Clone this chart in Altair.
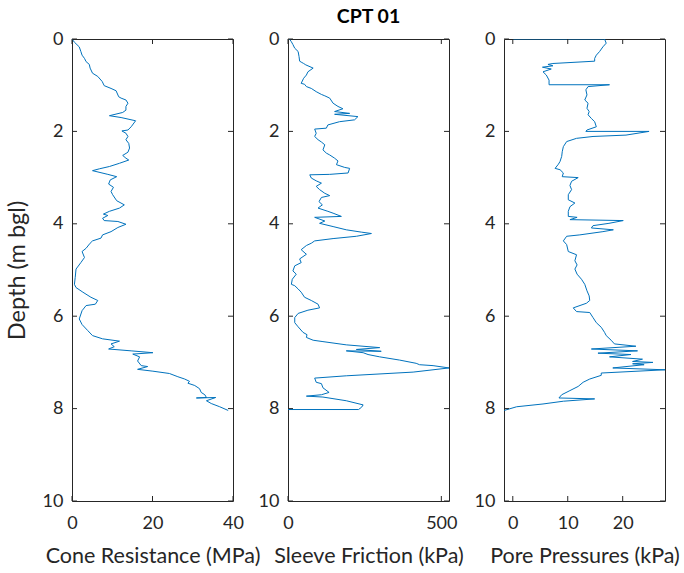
import altair as alt
import pandas as pd

FONT = "Lato"
TXT = "#262626"
LINE = "#0072BD"

# ---- data ----
cone_depth = [0, 0.07, 0.17, 0.27, 0.35, 0.42, 0.49, 0.55, 0.63, 0.74, 0.81, 0.92, 1.01, 1.07, 1.12, 1.25,
              1.28, 1.32, 1.39, 1.46, 1.54, 1.59, 1.66, 1.70, 1.77, 1.90, 1.97, 1.99, 2.04, 2.11, 2.18, 2.26,
              2.36, 2.45, 2.52, 2.58, 2.62, 2.69, 2.76, 2.81, 2.85, 2.93, 2.98, 3.05, 3.14, 3.21, 3.30, 3.37,
              3.50, 3.59, 3.66, 3.73, 3.79, 3.82, 3.88, 3.93, 3.95, 4.01, 4.08, 4.17, 4.24, 4.31, 4.37, 4.42,
              4.53, 4.60, 4.73, 4.84, 4.98, 5.16, 5.31, 5.38, 5.48, 5.59, 5.66, 5.74, 5.77, 5.88, 6.06, 6.18,
              6.31, 6.42, 6.49, 6.54, 6.60, 6.66, 6.71, 6.75, 6.79, 6.82, 6.88, 6.97, 7.07, 7.09, 7.15, 7.19,
              7.24, 7.31, 7.36, 7.41, 7.45, 7.50, 7.57, 7.65, 7.70, 7.76, 7.77, 7.76, 7.83, 7.89, 7.96, 8.04]
cone_value = [0, 0.6, 1.8, 2.2, 2.5, 3.1, 3.5, 4.3, 4.5, 5.1, 6.4, 7.5, 8.0, 9.7, 10.95, 11.6,
              12.2, 13.4, 13.9, 13.4, 13.4, 12.6, 9.3, 12.2, 15.8, 14.7, 13.9, 12.4, 13.4, 13.9, 13.4, 14.1,
              14.3, 13.9, 12.6, 13.4, 14.1, 11.8, 9.3, 6.8, 5.1, 8.9, 11.1, 9.5, 9.1, 10.3, 9.7, 10.1,
              11.1, 13.0, 11.8, 9.3, 7.8, 8.9, 7.6, 8.0, 11.4, 13.4, 11.4, 9.7, 7.6, 7.2, 5.1, 4.5,
              3.5, 2.5, 3.1, 2.2, 1.0, 0.8, 0.6, 1.0, 2.7, 4.7, 6.4, 5.8, 3.5, 2.5, 1.8, 2.5,
              3.9, 5.1, 7.6, 11.8, 9.7, 10.5, 9.1, 14.7, 20.1, 15.1, 16.8, 16.3, 17.2, 18.8, 16.3, 20.1,
              24.2, 26.3, 28.0, 29.2, 28.8, 30.5, 31.7, 32.1, 33.0, 33.4, 30.9, 35.7, 33.4, 34.6, 36.7, 38.8]

sleeve_depth = [0, 0.06, 0.12, 0.20, 0.27, 0.38, 0.48, 0.50, 0.53, 0.56, 0.63, 0.71, 0.78, 0.85, 0.96, 0.98,
                1.03, 1.07, 1.14, 1.20, 1.23, 1.28, 1.39, 1.46, 1.51, 1.57, 1.61, 1.63, 1.68, 1.75, 1.79, 1.86,
                1.93, 1.95, 2.04, 2.11, 2.18, 2.23, 2.29, 2.40, 2.47, 2.51, 2.58, 2.64, 2.72, 2.78, 2.80, 2.90,
                2.93, 2.94, 3.01, 3.07, 3.12, 3.19, 3.26, 3.34, 3.39, 3.43, 3.52, 3.59, 3.66, 3.73, 3.77, 3.84,
                3.86, 3.94, 3.99, 4.06, 4.13, 4.18, 4.21, 4.27, 4.32, 4.37, 4.42, 4.47, 4.56, 4.66, 4.76, 4.84,
                4.91, 5.02, 5.09, 5.20, 5.31, 5.34, 5.41, 5.48, 5.59, 5.66, 5.74, 5.82, 5.87, 5.94, 6.03, 6.14,
                6.23, 6.35, 6.40, 6.46, 6.52, 6.55, 6.62, 6.68, 6.72, 6.76, 6.75, 6.79, 6.83, 6.88, 6.95, 7.02,
                7.05, 7.07, 7.12, 7.21, 7.29, 7.34, 7.43, 7.46, 7.55, 7.65, 7.70, 7.73, 7.75, 7.83, 7.92, 7.97,
                8.02, 8.02]
sleeve_value = [5, 11, 16, 22, 33, 36, 38, 43, 51, 58, 82, 65, 60, 51, 43, 54,
                60, 76, 92, 109, 120, 136, 147, 163, 179, 152, 201, 152, 228, 217, 168, 130,
                125, 87, 92, 87, 98, 109, 120, 114, 125, 136, 152, 163, 158, 185, 201, 196,
                136, 71, 76, 92, 109, 92, 103, 120, 136, 109, 101, 112, 98, 130, 147, 174,
                87, 120, 103, 147, 190, 239, 272, 223, 147, 87, 76, 60, 43, 60, 38, 43,
                22, 16, 27, 14, 11, 22, 33, 43, 54, 76, 98, 103, 65, 33, 22, 22,
                33, 49, 62, 60, 82, 114, 190, 299, 223, 304, 190, 245, 261, 299, 364, 418,
                429, 473, 525, 408, 190, 87, 92, 109, 114, 134, 109, 60, 114, 190, 245, 240,
                230, 0]

pore_depth = [0, 0, 0.09, 0.17, 0.27, 0.35, 0.42, 0.48, 0.53, 0.55, 0.58, 0.61, 0.65, 0.71, 0.78, 0.89,
              0.99, 0.99, 1.03, 1.10, 1.21, 1.32, 1.39, 1.50, 1.57, 1.64, 1.72, 1.79, 1.90, 1.97, 2.00, 2.00,
              2.08, 2.11, 2.15, 2.22, 2.33, 2.44, 2.54, 2.65, 2.71, 2.80, 2.83, 2.90, 2.98, 3.00, 3.08, 3.17,
              3.26, 3.37, 3.48, 3.55, 3.63, 3.73, 3.84, 3.86, 3.91, 3.93, 3.99, 4.04, 4.09, 4.13, 4.17, 4.24,
              4.27, 4.37, 4.45, 4.60, 4.67, 4.80, 4.89, 4.98, 5.09, 5.20, 5.31, 5.45, 5.56, 5.66, 5.72, 5.82,
              5.90, 5.92, 6.03, 6.14, 6.24, 6.35, 6.42, 6.52, 6.60, 6.65, 6.71, 6.75, 6.80, 6.83, 6.88, 6.93,
              6.98, 7.00, 7.03, 7.05, 7.12, 7.16, 7.23, 7.28, 7.36, 7.43, 7.52, 7.61, 7.70, 7.77, 7.79, 7.84,
              7.90, 7.96, 8.04]
pore_value = [0, 16.7, 17.0, 16.4, 15.8, 15.2, 14.9, 14.9, 7.3, 6.4, 7.3, 5.4, 7.0, 5.5, 6.1, 6.6,
              6.6, 17.6, 13.7, 13.3, 13.5, 13.1, 13.7, 13.5, 13.9, 13.7, 14.3, 14.9, 15.2, 13.5, 13.3, 24.8,
              20.6, 14.6, 11.6, 9.8, 9.2, 9.0, 8.9, 8.6, 8.3, 7.7, 8.6, 9.2, 9.0, 11.9, 10.7, 10.4,
              10.7, 10.1, 10.1, 11.3, 10.4, 10.1, 10.1, 11.7, 10.4, 20.1, 17.5, 14.6, 14.3, 18.3, 16.4, 12.2,
              9.8, 9.2, 9.8, 10.1, 11.6, 11.3, 11.7, 11.3, 11.7, 12.5, 13.1, 13.5, 13.9, 14.0, 13.4, 11.0,
              11.6, 14.0, 14.6, 15.2, 16.1, 16.7, 17.0, 17.9, 18.5, 22.4, 14.3, 22.7, 15.5, 21.5, 17.6, 23.6,
              21.8, 25.5, 21.8, 23.9, 18.2, 27.7, 16.1, 16.1, 14.0, 12.8, 11.9, 10.4, 8.9, 8.4, 14.9, 9.2,
              5.5, 0.7, -1.57]

depth_ticks = [0, 2, 4, 6, 8, 10]
cone_ticks = [0, 20, 40]
sleeve_ticks = [0, 500]
pore_ticks = [0, 10, 20]

W, H = 161, 462
TL = 5  # tick length (inward)


def panel(depth, value, xdomain, xticks, xtitle, ytitle=None, title=None):
    df = pd.DataFrame({"depth": depth, "value": value, "i": list(range(len(depth)))})
    xs = alt.Scale(domain=xdomain, nice=False, zero=False)
    ys = alt.Scale(domain=[0, 10], reverse=True, nice=False)
    yaxis_kw = dict(values=depth_ticks, orient="left", domain=False, ticks=False,
                    labelPadding=9, labelColor=TXT, titleColor=TXT,
                    labelFont=FONT, labelFontSize=18, titleFont=FONT, titleFontSize=23.5,
                    titleFontWeight="normal", titlePadding=13, grid=False)
    if ytitle:
        yaxis = alt.Axis(title=ytitle, **yaxis_kw)
    else:
        yaxis = alt.Axis(title=None, **yaxis_kw)
    line = alt.Chart(df).mark_line(color=LINE, strokeWidth=1, clip=True).encode(
        x=alt.X("value:Q", scale=xs,
                axis=alt.Axis(values=xticks, title=xtitle, orient="bottom", domain=False,
                              ticks=False, labelPadding=13, labelColor=TXT,
                              titleColor=TXT, labelFont=FONT, labelFontSize=18, titleFont=FONT,
                              titleFontSize=21.5, titleFontWeight="normal", titlePadding=13,
                              grid=False, labelFlush=False)),
        y=alt.Y("depth:Q", scale=ys, axis=yaxis),
        order=alt.Order("i:Q"),
    )
    ydf = pd.DataFrame({"t": depth_ticks})
    xdf = pd.DataFrame({"t": xticks})
    rule = dict(color=TXT, strokeWidth=1)
    yl = alt.Chart(ydf).mark_rule(**rule).encode(
        y=alt.Y("t:Q", scale=ys, axis=None), x=alt.value(0), x2=alt.value(TL))
    yr = alt.Chart(ydf).mark_rule(**rule).encode(
        y=alt.Y("t:Q", scale=ys, axis=None), x=alt.value(W - TL), x2=alt.value(W))
    xb = alt.Chart(xdf).mark_rule(**rule).encode(
        x=alt.X("t:Q", scale=xs, axis=None), y=alt.value(H - TL), y2=alt.value(H))
    xt = alt.Chart(xdf).mark_rule(**rule).encode(
        x=alt.X("t:Q", scale=xs, axis=None), y=alt.value(0), y2=alt.value(TL))
    ch = alt.layer(line, yl, yr, xb, xt).resolve_axis(x="independent", y="independent")
    if title:
        ch = ch.properties(width=W, height=H,
                           title=alt.TitleParams(title, font=FONT, fontSize=19.5, fontWeight="bold",
                                                 color="black", offset=3, anchor="middle"))
    else:
        ch = ch.properties(width=W, height=H)
    return ch


p1 = panel(cone_depth, cone_value, [0, 40], cone_ticks, "Cone Resistance (MPa)", ytitle="Depth (m bgl)")
p2 = panel(sleeve_depth, sleeve_value, [0, 525], sleeve_ticks, "Sleeve Friction (kPa)", title="CPT 01")
p3 = panel(pore_depth, pore_value, [-1.6, 27.7], pore_ticks, "Pore Pressures (kPa)")

chart = alt.hconcat(p1, p2, p3, spacing=55, bounds="flush").configure_view(
    stroke=TXT, strokeWidth=1
).properties(
    padding={"left": 4, "top": 6, "right": 2, "bottom": 2},
    background="white",
)

chart.save("out.html", embed_options={"renderer": "svg", "actions": False})
